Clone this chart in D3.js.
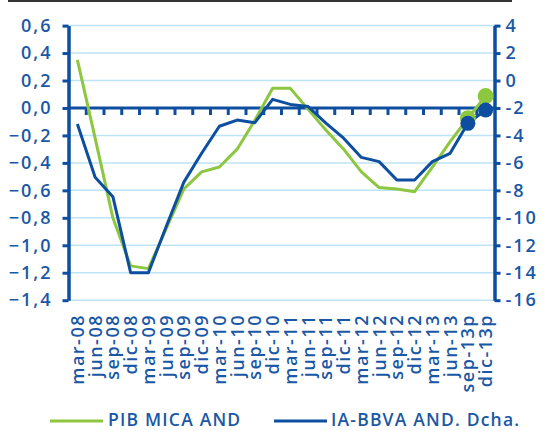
<!DOCTYPE html>
<html>
<head>
<meta charset="utf-8">
<script src="https://cdn.jsdelivr.net/npm/d3@7"></script>
<style>
  body { margin: 0; background: #fff; }
  svg text { font-family: "Open Sans", sans-serif; fill: #1a58a5; font-weight: 600; }
</style>
</head>
<body>
<div id="chart"></div>
<script>
var categories = ["mar-08","jun-08","sep-08","dic-08","mar-09","jun-09","sep-09","dic-09",
                  "mar-10","jun-10","sep-10","dic-10","mar-11","jun-11","sep-11","dic-11",
                  "mar-12","jun-12","sep-12","dic-12","mar-13","jun-13","sep-13p","dic-13p"];

// PIB MICA AND (eje izq.)
var pibMica = [0.35, -0.22, -0.80, -1.15, -1.17, -0.88, -0.59, -0.465, -0.43, -0.30, -0.09, 0.143,
               0.143, -0.01, -0.16, -0.30, -0.465, -0.58, -0.59, -0.61, -0.43, -0.245, -0.075, 0.087];

// IA-BBVA AND (eje dcho.)
var iaBbva = [-3.17, -7.05, -8.46, -14.0, -14.0, -10.65, -7.4, -5.3, -3.33, -2.88, -3.07, -1.37,
              -1.74, -1.9, -3.1, -4.2, -5.6, -5.91, -7.25, -7.25, -5.91, -5.3, -3.12, -2.15];

var leftTicks = [0.6, 0.4, 0.2, 0.0, -0.2, -0.4, -0.6, -0.8, -1.0, -1.2, -1.4];
var rightTicks = [4, 2, 0, -2, -4, -6, -8, -10, -12, -14, -16];

var seriesNames = ["PIB MICA AND", "IA-BBVA AND. Dcha."];

var colors = { green: "#8dc63f", blue: "#0d4ea0", grid: "#bde3f6", label: "#1a58a5" };

var W = 544, H = 431;
var plot = { left: 68.5, right: 494.5, top: 25.6, bottom: 300.2 };

var svg = d3.select("#chart").append("svg")
   .attr("width", W)
   .attr("height", H);

// top rule
svg.append("line")
   .attr("x1", 8).attr("x2", 512)
   .attr("y1", 1).attr("y2", 1)
   .attr("stroke", "#333").attr("stroke-width", 2);

var x = d3.scaleBand()
   .domain(categories)
   .range([plot.left, plot.right])
   .padding(0);

var cx = function(c) { return x(c) + x.bandwidth() / 2; };

var yL = d3.scaleLinear().domain([-1.4, 0.6]).range([plot.bottom, plot.top]);
var yR = d3.scaleLinear().domain([-16, 4]).range([plot.bottom, plot.top]);

var fmt = function(d) { return d3.format(".1f")(d).replace(".", ","); };

// gridlines
svg.append("g").selectAll("line")
   .data(leftTicks.filter(function(d) { return d !== 0; }))
   .enter().append("line")
   .attr("x1", plot.left).attr("x2", plot.right)
   .attr("y1", function(d) { return yL(d); })
   .attr("y2", function(d) { return yL(d); })
   .attr("stroke", colors.grid)
   .attr("stroke-width", 1.5);

function styleAxis(g) {
   g.select(".domain").attr("stroke", colors.blue).attr("stroke-width", 3.5);
   g.selectAll(".tick line").attr("stroke", colors.blue).attr("stroke-width", 3);
   g.selectAll(".tick text")
      .style("font-family", "'Open Sans', sans-serif")
      .style("font-weight", "600")
      .style("font-size", "18px")
      .style("letter-spacing", "2px")
      .attr("fill", colors.label);
}

// left axis
var leftAxis = d3.axisLeft(yL)
   .tickValues(leftTicks)
   .tickFormat(fmt)
   .tickSize(6)
   .tickSizeOuter(0)
   .tickPadding(10);

svg.append("g")
   .attr("transform", "translate(" + plot.left + ",0)")
   .call(leftAxis)
   .call(styleAxis);

// right axis
var rightAxis = d3.axisRight(yR)
   .tickValues(rightTicks)
   .tickFormat(function(d) { return d; })
   .tickSize(6)
   .tickSizeOuter(0)
   .tickPadding(5);

svg.append("g")
   .attr("transform", "translate(" + plot.right + ",0)")
   .call(rightAxis)
   .call(styleAxis);

// zero line with category ticks
var y0 = yL(0);
svg.append("line")
   .attr("x1", plot.left).attr("x2", plot.right)
   .attr("y1", y0).attr("y2", y0)
   .attr("stroke", colors.blue).attr("stroke-width", 3);

svg.append("g").selectAll("line")
   .data(categories.slice(1))
   .enter().append("line")
   .attr("x1", function(d) { return x(d); })
   .attr("x2", function(d) { return x(d); })
   .attr("y1", y0).attr("y2", y0 + 7)
   .attr("stroke", colors.blue).attr("stroke-width", 3);

// category labels
svg.append("g").selectAll("text")
   .data(categories)
   .enter().append("text")
   .attr("transform", function(d) { return "translate(" + cx(d) + ",314) rotate(-90)"; })
   .attr("text-anchor", "end")
   .attr("dy", "0.36em")
   .style("font-size", "18px")
   .style("letter-spacing", "1.5px")
   .text(function(d) { return d; });

// lines
var lineL = d3.line()
   .x(function(d, i) { return cx(categories[i]); })
   .y(function(d) { return yL(d); });

var lineR = d3.line()
   .x(function(d, i) { return cx(categories[i]); })
   .y(function(d) { return yR(d); });

svg.append("path")
   .datum(pibMica)
   .attr("fill", "none")
   .attr("stroke", colors.green)
   .attr("stroke-width", 3)
   .attr("stroke-linejoin", "round")
   .attr("d", lineL);

svg.append("path")
   .datum(iaBbva)
   .attr("fill", "none")
   .attr("stroke", colors.blue)
   .attr("stroke-width", 3)
   .attr("stroke-linejoin", "round")
   .attr("d", lineR);

// forecast markers (categories ending in "p")
var isForecast = function(i) { return /p$/.test(categories[i]); };

svg.append("g").selectAll("circle")
   .data(pibMica.map(function(v, i) { return { v: v, i: i }; }).filter(function(d) { return isForecast(d.i); }))
   .enter().append("circle")
   .attr("cx", function(d) { return cx(categories[d.i]); })
   .attr("cy", function(d) { return yL(d.v); })
   .attr("r", 8)
   .attr("fill", colors.green);

svg.append("g").selectAll("circle")
   .data(iaBbva.map(function(v, i) { return { v: v, i: i }; }).filter(function(d) { return isForecast(d.i); }))
   .enter().append("circle")
   .attr("cx", function(d) { return cx(categories[d.i]); })
   .attr("cy", function(d) { return yR(d.v); })
   .attr("r", 7.5)
   .attr("fill", colors.blue);

// legend
var legendItems = [
   { name: seriesNames[0], color: colors.green, x1: 50, x2: 103, tx: 108 },
   { name: seriesNames[1], color: colors.blue, x1: 274, x2: 327, tx: 331 }
];

var legend = svg.append("g");
legend.selectAll("line")
   .data(legendItems)
   .enter().append("line")
   .attr("x1", function(d) { return d.x1; })
   .attr("x2", function(d) { return d.x2; })
   .attr("y1", 421).attr("y2", 421)
   .attr("stroke", function(d) { return d.color; })
   .attr("stroke-width", 3);

legend.selectAll("text")
   .data(legendItems)
   .enter().append("text")
   .attr("x", function(d) { return d.tx; })
   .attr("y", 426)
   .style("font-size", "17.5px")
   .style("letter-spacing", "1.2px")
   .text(function(d) { return d.name; });
</script>
</body>
</html>
